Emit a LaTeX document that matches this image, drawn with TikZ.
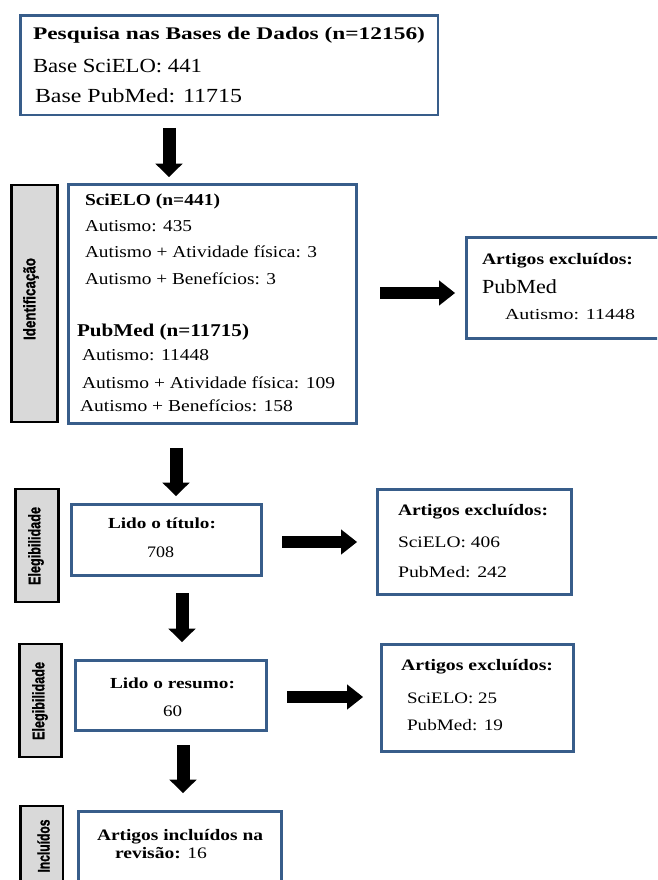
\documentclass[tikz,border=0pt]{standalone}
\usepackage{fontspec}
\setmainfont{Liberation Serif}
\newfontfamily\labfont{Liberation Sans Bold}[FakeBold=1.3]
\usepackage{graphicx}
\usetikzlibrary{arrows.meta,fit}
\newdimen\pxu \pxu=0.75pt
\definecolor{boxblue}{RGB}{56,93,138}
\definecolor{labgray}{RGB}{217,217,217}
\newcommand\tline[6]{\node[anchor=base west, inner sep=0pt, outer sep=0pt] (#1) at (#2,#3) {\fontsize{#4}{#4}\selectfont\resizebox{#5\pxu}{\height}{#6}};}
\newcommand\slab[6]{\node[rotate=90, inner sep=0pt, outer sep=0pt] (#1) at (#2,#3) {\labfont\fontsize{#4}{#4}\selectfont\resizebox{#5\pxu}{\height}{#6}};}
\begin{document}
\begin{tikzpicture}[x=0.75pt,y=-0.75pt,
  bluebox/.style={draw=boxblue, line width=2.2pt, inner sep=0pt, outer sep=0pt},
  labbox/.style={draw=black, fill=labgray, line width=2.2pt, inner sep=0pt, outer sep=0pt},
  darrow/.style={line width=9.75pt, -{Triangle[length=10pt,width=20.5pt,line width=0pt]}},
  rarrow/.style={line width=8.5pt, -{Triangle[length=12pt,width=19pt,line width=0pt]}}]
\useasboundingbox (0,0) rectangle (657,880);
\fill[white] (0,0) rectangle (657,880);
\clip (0,0) rectangle (657,880);

% boxes
\node[bluebox, fit={(20.5,15.5) (438,115)}] (top) {};
\node[bluebox, fit={(68.5,184.5) (356.5,423.5)}] (ident) {};
\node[bluebox, fit={(466.5,237.5) (680,338.5)}] (exc1) {};
\node[bluebox, fit={(71.5,504.5) (261.5,575.5)}] (titulo) {};
\node[bluebox, fit={(377.5,489.5) (571.5,594.5)}] (exc2) {};
\node[bluebox, fit={(75.5,660.5) (266.5,730.5)}] (resumo) {};
\node[bluebox, fit={(381.5,644.5) (573.5,751.5)}] (exc3) {};
\node[bluebox, fit={(78.5,811.5) (281.5,900)}] (incl) {};

% side labels
\node[labbox, fit={(11.5,185) (57.5,422)}] (lb1) {};
\node[labbox, fit={(15.5,489) (58.5,602)}] (lb2) {};
\node[labbox, fit={(19.5,644) (61.5,757)}] (lb3) {};
\node[labbox, fit={(20.5,806) (63,900)}] (lb4) {};
\slab{s1}{31}{299}{12.5}{82}{Identificação}
\slab{s2}{36}{546}{12.5}{78}{Elegibilidade}
\slab{s3}{40}{701}{12.5}{78}{Elegibilidade}
\slab{s4}{43.5}{846}{12.5}{53}{Incluídos}

% top box text
\tline{t1}{33}{40}{13.3}{392}{\bfseries Pesquisa nas Bases de Dados (n=12156)}
\tline{t2}{33}{72.7}{15}{169}{Base SciELO: 441}
\tline{t3}{35}{103}{15}{207}{Base PubMed: 11715}

% identification text
\tline{i1}{85}{206}{12.5}{135}{\bfseries SciELO (n=441)}
\tline{i2}{85}{231.7}{12.5}{107}{Autismo: 435}
\tline{i3}{85}{257.7}{12.5}{232}{Autismo + Atividade física: 3}
\tline{i4}{85}{284}{12.5}{191}{Autismo + Benefícios: 3}
\tline{i5}{77}{336}{13.5}{172}{\bfseries PubMed (n=11715)}
\tline{i6}{82}{360.7}{12.5}{127}{Autismo: 11448}
\tline{i7}{82}{388}{12.5}{253}{Autismo + Atividade física: 109}
\tline{i8}{80}{411.7}{12.5}{213}{Autismo + Benefícios: 158}

% excluded 1
\tline{e1a}{482}{265}{12}{151}{\bfseries Artigos excluídos:}
\tline{e1b}{482}{293}{15}{75}{PubMed}
\tline{e1c}{505}{319.3}{11.5}{130}{Autismo: 11448}

% titulo
\tline{b1a}{108}{528}{11.5}{108}{\bfseries Lido o título:}
\tline{b1b}{147}{557}{12}{27}{708}

% excluded 2
\tline{e2a}{398}{515}{12}{150}{\bfseries Artigos excluídos:}
\tline{e2b}{398}{547}{12}{102}{SciELO: 406}
\tline{e2c}{398}{577}{12}{109}{PubMed: 242}

% resumo
\tline{b2a}{110}{688}{11.5}{125}{\bfseries Lido o resumo:}
\tline{b2b}{163}{716}{12}{19}{60}

% excluded 3
\tline{e3a}{401}{670}{12}{152}{\bfseries Artigos excluídos:}
\tline{e3b}{407}{703}{12}{90}{SciELO: 25}
\tline{e3c}{407}{730}{12}{96}{PubMed: 19}

% included
\tline{f1}{97}{840}{12}{166}{\bfseries Artigos incluídos na}
\tline{f2}{115}{858}{12}{92}{{\bfseries revisão:} 16}

% arrow endpoints
\coordinate (d1s) at (169,128); \coordinate (d1e) at (169,177);
\coordinate (d2s) at (176,448); \coordinate (d2e) at (176,496);
\coordinate (d3s) at (182,593); \coordinate (d3e) at (182,642);
\coordinate (d4s) at (183,745); \coordinate (d4e) at (183,793);
\coordinate (r1s) at (380,293); \coordinate (r1e) at (455,293);
\coordinate (r2s) at (282,542); \coordinate (r2e) at (357,542);
\coordinate (r3s) at (287,697); \coordinate (r3e) at (363,697);
\draw[darrow] (d1s) -- (d1e);
\draw[darrow] (d2s) -- (d2e);
\draw[darrow] (d3s) -- (d3e);
\draw[darrow] (d4s) -- (d4e);
\draw[rarrow] (r1s) -- (r1e);
\draw[rarrow] (r2s) -- (r2e);
\draw[rarrow] (r3s) -- (r3e);
\end{tikzpicture}
\end{document}
